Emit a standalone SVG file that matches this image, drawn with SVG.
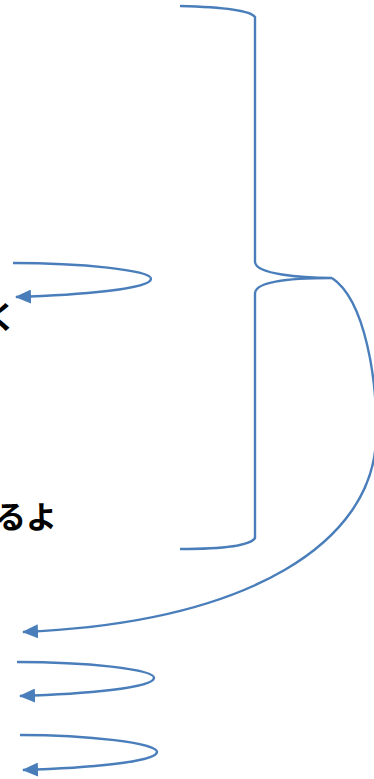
<svg xmlns="http://www.w3.org/2000/svg" width="374" height="779" viewBox="0 0 374 779">
<style>
.c{fill:none;stroke:#4A7EBB;stroke-width:2.4}
.t{font-family:"Noto Sans CJK JP","Noto Sans CJK SC",sans-serif;font-weight:bold;fill:#000;font-size:31px}
</style>
<defs>
<marker id="ah" markerUnits="userSpaceOnUse" viewBox="0 0 16 14" markerWidth="16" markerHeight="14" refX="15" refY="7" orient="auto">
<path d="M0,0 L16,7 L0,14 z" fill="#4A7EBB"/>
</marker>
</defs>
<g id="labels">
<text id="t1" class="t" x="-14" y="328">く</text>
<text id="t2" class="t" x="-5" y="528">るよ</text>
</g>
<g id="connectors">
<path id="brace" class="c" d="M180,6 C220,7 250,10 255,17 L255,262 C256,274 300,278 332,278 C300,278 256,280 255,293 L255,538 C250,546 220,549 180,549"/>
<path id="big" class="c" marker-end="url(#ah)" d="M332,278 C365,300 378,380 376,440 C372,540 255,622 23,632"/>
<path id="loop1" class="c" marker-end="url(#ah)" d="M13,263 C80,263 152,270 151,279 C150,289 80,295 16,297"/>
<path id="loop2" class="c" marker-end="url(#ah)" d="M17,662 C85,662 155,669 154,678 C153,688 85,694 20,696"/>
<path id="loop3" class="c" marker-end="url(#ah)" d="M20,735 C88,735 158,743 157,752 C156,762 88,768 23,770"/>
</g>
</svg>
